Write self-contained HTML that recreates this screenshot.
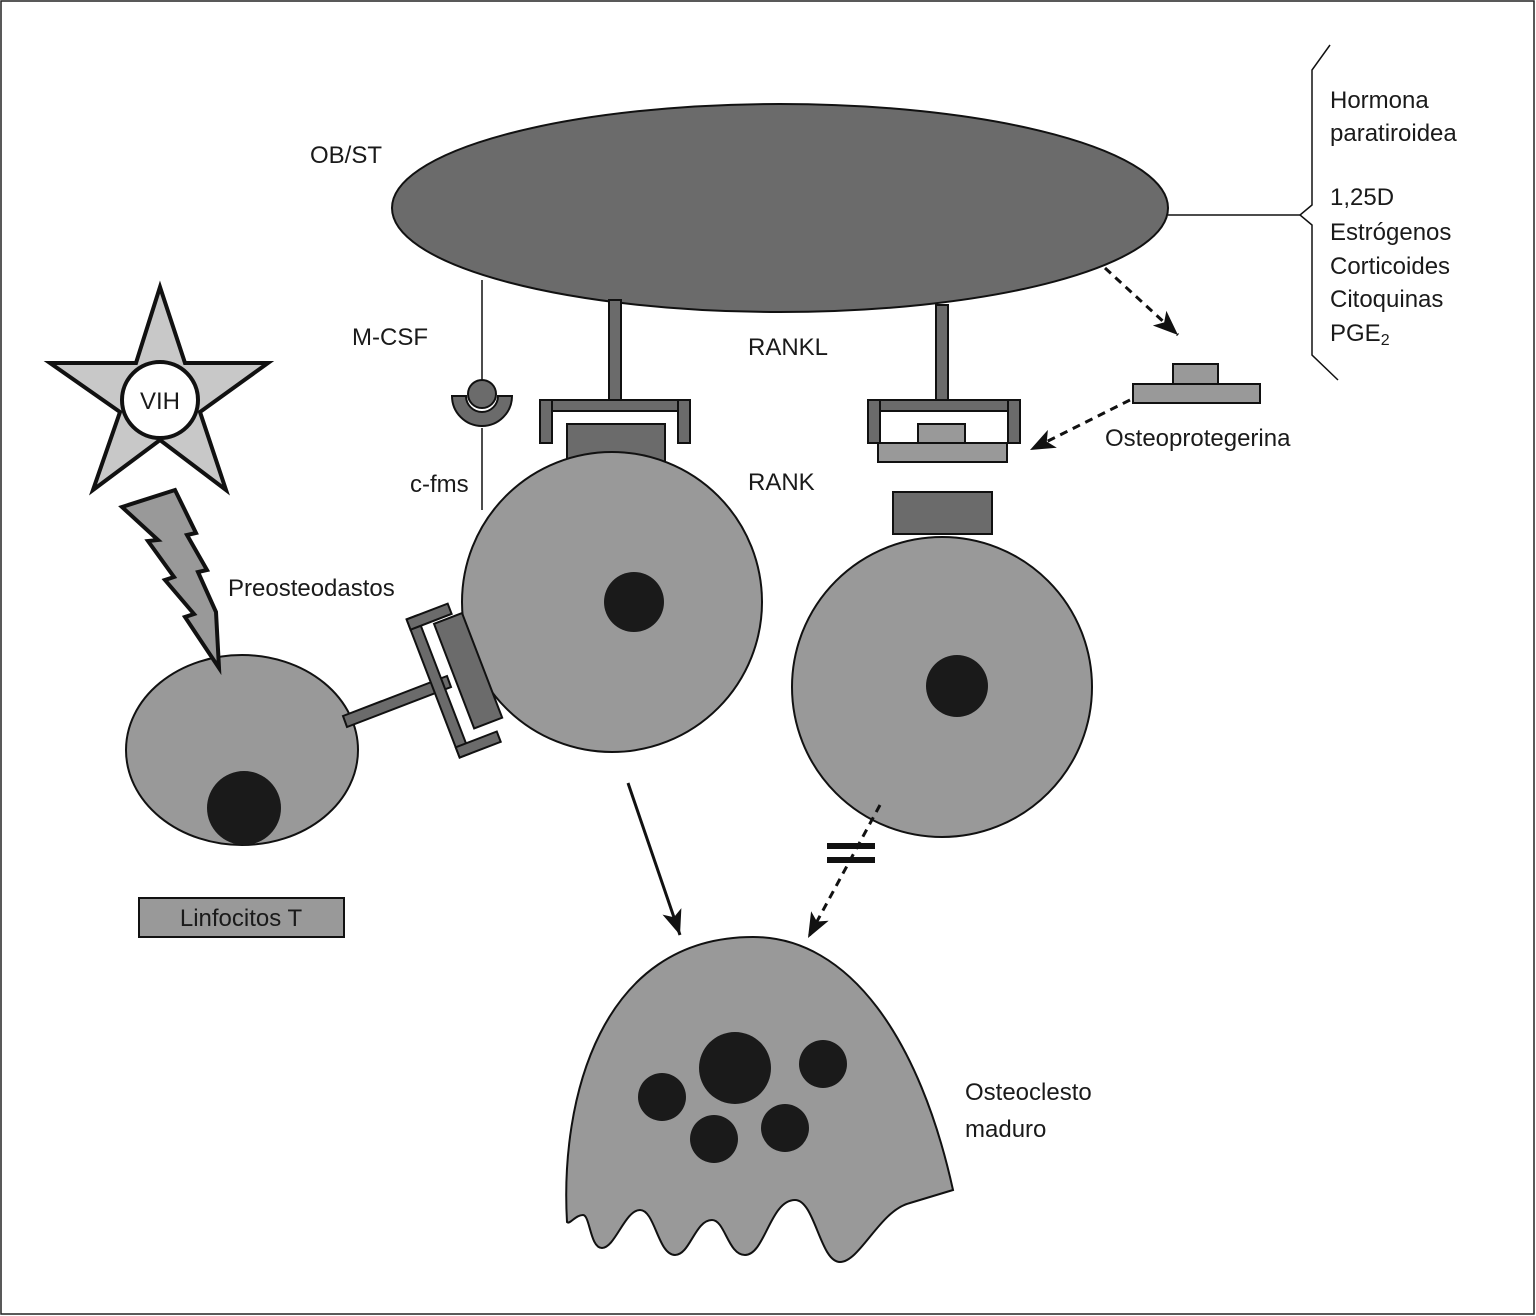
<!DOCTYPE html>
<html><head><meta charset="utf-8"><style>html,body{margin:0;padding:0;background:#fff}svg{display:block}text{font-family:"Liberation Sans",sans-serif;font-size:24px;fill:#1a1a1a}</style></head><body>
<svg width="1536" height="1316" viewBox="0 0 1536 1316" xmlns="http://www.w3.org/2000/svg">
<defs><marker id="ah" markerWidth="10" markerHeight="10" refX="9" refY="5" orient="auto" markerUnits="userSpaceOnUse"><path d="M0,0 L0,0 L10,5 L0,10 Z" fill="#111"/></marker>
<marker id="a2" viewBox="0 0 20 16" markerWidth="26" markerHeight="20" refX="20" refY="8" orient="auto" markerUnits="userSpaceOnUse"><path d="M0,0 L20,8 L0,16 L5,8 Z" fill="#111"/></marker></defs>
<rect x="1" y="1" width="1533" height="1313" fill="none" stroke="#222" stroke-width="1.5"/>
<g stroke="#111" stroke-width="2">
<ellipse cx="780" cy="208" rx="388" ry="104" fill="#6b6b6b"/>
<line x1="1168" y1="215" x2="1300" y2="215" stroke-width="1.5"/>
<polyline points="1330,45 1312,70 1312,205 1300,215 1312,225 1312,355 1338,380" fill="none" stroke-width="1.5"/>
<line x1="482" y1="280" x2="482" y2="382" stroke-width="1.5"/>
<line x1="482" y1="428" x2="482" y2="510" stroke-width="1.5"/>
<path d="M452,396 A30,30 0 0 0 512,396 L498,396 A16,16 0 0 1 466,396 Z" fill="#6b6b6b"/>
<circle cx="482" cy="394" r="14" fill="#6b6b6b"/>
<rect x="609" y="300" width="12" height="100" fill="#6b6b6b"/>
<rect x="540" y="400" width="150" height="11" fill="#6b6b6b"/>
<rect x="540" y="400" width="12" height="43" fill="#6b6b6b"/>
<rect x="678" y="400" width="12" height="43" fill="#6b6b6b"/>
<rect x="567" y="424" width="98" height="40" fill="#6b6b6b"/>
<circle cx="612" cy="602" r="150" fill="#999"/>
<circle cx="634" cy="602" r="30" fill="#1a1a1a" stroke="none"/>
<rect x="936" y="305" width="12" height="95" fill="#6b6b6b"/>
<rect x="868" y="400" width="152" height="11" fill="#6b6b6b"/>
<rect x="868" y="400" width="12" height="43" fill="#6b6b6b"/>
<rect x="1008" y="400" width="12" height="43" fill="#6b6b6b"/>
<rect x="918" y="424" width="47" height="20" fill="#999"/>
<rect x="878" y="443" width="129" height="19" fill="#999"/>
<rect x="893" y="492" width="99" height="42" fill="#6b6b6b"/>
<circle cx="942" cy="687" r="150" fill="#999"/>
<circle cx="957" cy="686" r="31" fill="#1a1a1a" stroke="none"/>
<rect x="1173" y="364" width="45" height="20" fill="#999"/>
<rect x="1133" y="384" width="127" height="19" fill="#999"/>
<ellipse cx="242" cy="750" rx="116" ry="95" fill="#999"/>
<circle cx="244" cy="808" r="37" fill="#1a1a1a" stroke="none"/>
<polygon points="343,716 447,676 451,687 347,727" fill="#6b6b6b"/>
<g transform="translate(463,677) rotate(-21)">
<rect x="-32" y="-74" width="11" height="148" fill="#6b6b6b"/>
<rect x="-32" y="-74" width="44" height="11" fill="#6b6b6b"/>
<rect x="-32" y="63" width="44" height="11" fill="#6b6b6b"/>
<rect x="-8" y="-60" width="30" height="112" fill="#6b6b6b"/>
</g>
<rect x="139" y="898" width="205" height="39" fill="#999"/>
<polygon points="160,287 185,363 268,363 200,412 226,490 160,440 93,490 120,412 50,363 136,363" fill="#c8c8c8" stroke-width="4" stroke-linejoin="miter"/>
<circle cx="160" cy="400" r="38" fill="#fff" stroke-width="4"/>
<polygon points="122,507 175,490 196,533 187,535 207,570 198,572 216,612 219,668 185,617 194,614 165,580 174,577 148,541 158,540" fill="#999" stroke-width="4" stroke-linejoin="miter"/>
<path d="M753,937 C850,937 920,1040 953,1190 L910,1203 C880,1210 860,1262 840,1262 C820,1262 815,1200 795,1200 C770,1200 765,1255 745,1255 C728,1255 725,1220 712,1220 C695,1220 690,1255 675,1255 C658,1255 655,1210 640,1210 C625,1210 615,1248 602,1248 C590,1248 590,1215 583,1215 C575,1215 570,1225 567,1222 C560,1100 600,937 753,937 Z" fill="#999"/>
</g>
<g fill="#1a1a1a">
<circle cx="735" cy="1068" r="36"/><circle cx="823" cy="1064" r="24"/><circle cx="662" cy="1097" r="24"/><circle cx="785" cy="1128" r="24"/><circle cx="714" cy="1139" r="24"/>
</g>
<g stroke="#111" stroke-width="3" fill="none">
<line x1="628" y1="783" x2="680" y2="935" marker-end="url(#a2)"/>
<line x1="1105" y1="268" x2="1178" y2="335" stroke-dasharray="8,6" marker-end="url(#a2)"/>
<line x1="1130" y1="400" x2="1030" y2="450" stroke-dasharray="8,6" marker-end="url(#a2)"/>
<line x1="880" y1="805" x2="808" y2="938" stroke-dasharray="8,6" marker-end="url(#a2)"/>
</g>
<rect x="827" y="843" width="48" height="6" fill="#111"/>
<rect x="827" y="857" width="48" height="6" fill="#111"/>
<text x="310" y="163">OB/ST</text>
<text x="352" y="345">M-CSF</text>
<text x="410" y="492">c-fms</text>
<text x="748" y="355">RANKL</text>
<text x="748" y="490">RANK</text>
<text x="228" y="596">Preosteodastos</text>
<text x="1105" y="446">Osteoprotegerina</text>
<text x="965" y="1100">Osteoclesto</text>
<text x="965" y="1137">maduro</text>
<text x="241" y="926" text-anchor="middle">Linfocitos T</text>
<text x="160" y="409" text-anchor="middle">VIH</text>
<text x="1330" y="108">Hormona</text>
<text x="1330" y="141">paratiroidea</text>
<text x="1330" y="205">1,25D</text>
<text x="1330" y="240">Estrógenos</text>
<text x="1330" y="274">Corticoides</text>
<text x="1330" y="307">Citoquinas</text>
<text x="1330" y="341">PGE<tspan font-size="16" dy="4">2</tspan></text>
</svg>
</body></html>
